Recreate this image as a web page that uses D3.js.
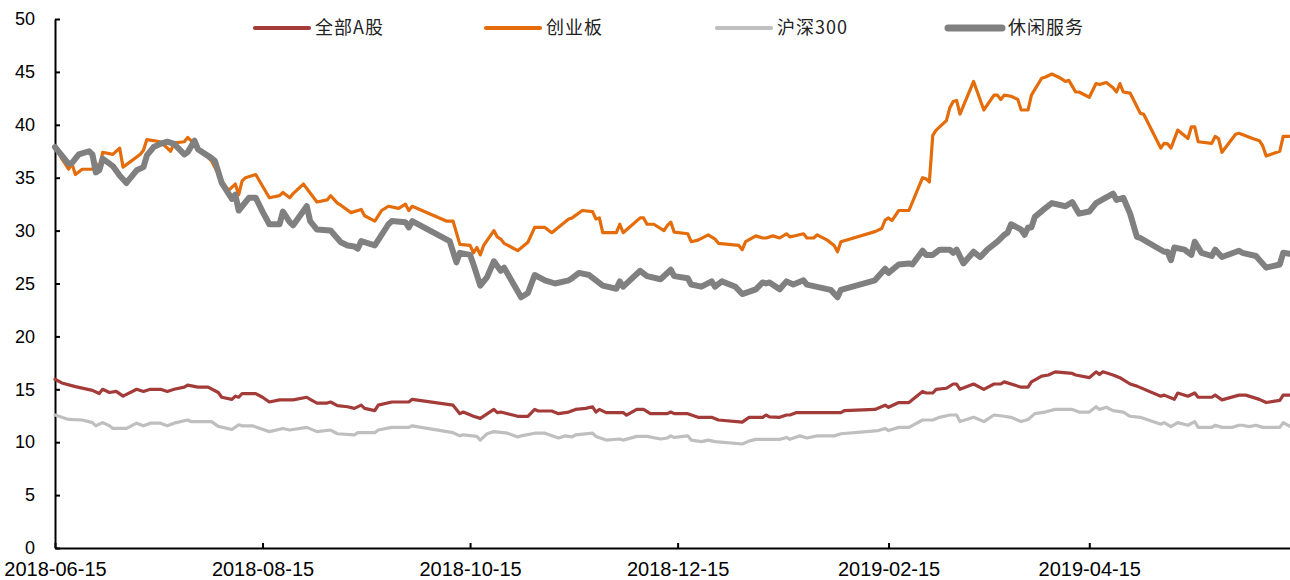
<!DOCTYPE html>
<html>
<head>
<meta charset="utf-8">
<script src="https://cdn.jsdelivr.net/npm/d3@7"></script>
<style>
  body { margin: 0; background: #fff; }
  svg { display: block; }
</style>
</head>
<body>
<svg id="chart"></svg>
<script>
// PE series: [date, value]
const quanbuA = [
  ["2018-06-15",15.95],["2018-06-17",15.6],["2018-06-21",15.25],["2018-06-26",14.9],["2018-06-28",14.6],
  ["2018-06-29",15.0],["2018-07-01",14.7],["2018-07-03",14.8],["2018-07-05",14.35],["2018-07-09",15.0],
  ["2018-07-11",14.8],["2018-07-13",15.0],["2018-07-16",15.0],["2018-07-18",14.8],["2018-07-20",15.0],
  ["2018-07-23",15.2],["2018-07-24",15.4],["2018-07-27",15.2],["2018-07-30",15.2],["2018-08-02",14.7],
  ["2018-08-03",14.25],["2018-08-06",14.05],["2018-08-07",14.35],["2018-08-08",14.25],["2018-08-09",14.6],
  ["2018-08-13",14.6],["2018-08-15",14.25],["2018-08-17",13.8],["2018-08-20",14.0],["2018-08-24",14.0],
  ["2018-08-28",14.25],["2018-08-29",14.05],["2018-08-31",13.7],["2018-09-03",13.7],["2018-09-04",13.8],
  ["2018-09-06",13.45],["2018-09-09",13.35],["2018-09-11",13.2],["2018-09-13",13.5],["2018-09-14",13.2],
  ["2018-09-17",12.98],["2018-09-18",13.5],["2018-09-22",13.8],["2018-09-27",13.8],["2018-09-28",14.05],
  ["2018-10-10",13.5],["2018-10-12",12.7],["2018-10-13",12.85],["2018-10-16",12.45],["2018-10-18",12.25],
  ["2018-10-22",13.1],["2018-10-23",12.8],["2018-10-24",12.85],["2018-10-29",12.45],["2018-11-01",12.45],
  ["2018-11-03",13.1],["2018-11-04",12.95],["2018-11-08",12.95],["2018-11-10",12.7],["2018-11-13",12.85],
  ["2018-11-15",13.1],["2018-11-18",13.2],["2018-11-20",13.35],["2018-11-21",12.85],["2018-11-22",13.1],
  ["2018-11-24",12.8],["2018-11-29",12.8],["2018-11-30",12.55],["2018-12-03",13.1],["2018-12-05",13.1],
  ["2018-12-07",12.7],["2018-12-12",12.7],["2018-12-13",12.85],["2018-12-14",12.7],["2018-12-18",12.7],
  ["2018-12-21",12.35],["2018-12-25",12.35],["2018-12-27",12.1],["2019-01-03",11.9],["2019-01-05",12.35],
  ["2019-01-09",12.35],["2019-01-10",12.57],["2019-01-11",12.4],["2019-01-14",12.35],["2019-01-16",12.57],
  ["2019-01-17",12.57],["2019-01-19",12.8],["2019-02-01",12.8],["2019-02-02",12.98],["2019-02-11",13.1],
  ["2019-02-14",13.5],["2019-02-15",13.3],["2019-02-18",13.75],["2019-02-21",13.75],["2019-02-25",14.8],
  ["2019-02-26",14.65],["2019-02-28",14.65],["2019-03-01",15.0],["2019-03-04",15.1],["2019-03-06",15.5],
  ["2019-03-07",15.5],["2019-03-08",15.0],["2019-03-12",15.5],["2019-03-15",15.0],["2019-03-18",15.5],
  ["2019-03-20",15.5],["2019-03-21",15.7],["2019-03-26",15.2],["2019-03-28",15.2],["2019-03-29",15.7],
  ["2019-04-01",16.25],["2019-04-03",16.35],["2019-04-05",16.65],["2019-04-10",16.5],["2019-04-11",16.35],
  ["2019-04-15",16.1],["2019-04-17",16.65],["2019-04-18",16.4],["2019-04-19",16.65],["2019-04-22",16.35],
  ["2019-04-24",16.1],["2019-04-27",15.5],["2019-04-29",15.3],["2019-05-06",14.35],["2019-05-07",14.45],
  ["2019-05-10",14.05],["2019-05-11",14.65],["2019-05-14",14.35],["2019-05-16",14.65],["2019-05-17",14.25],
  ["2019-05-21",14.25],["2019-05-22",14.45],["2019-05-24",14.0],["2019-05-29",14.45],["2019-05-31",14.45],
  ["2019-06-04",14.05],["2019-06-06",13.75],["2019-06-10",13.95],["2019-06-11",14.45],["2019-06-13",14.45]
]

const chuangyeban = [
  ["2018-06-15",38.0],["2018-06-17",36.8],["2018-06-19",35.8],["2018-06-20",36.3],["2018-06-21",35.3],
  ["2018-06-23",35.8],["2018-06-26",35.8],["2018-06-27",36.4],["2018-06-28",35.7],["2018-06-29",37.4],
  ["2018-07-02",37.2],["2018-07-04",37.8],["2018-07-05",36.0],["2018-07-10",37.2],["2018-07-11",37.6],
  ["2018-07-12",38.6],["2018-07-16",38.4],["2018-07-19",37.5],["2018-07-20",38.3],["2018-07-23",38.4],
  ["2018-07-24",38.8],["2018-07-26",38.2],["2018-07-31",36.6],["2018-08-03",34.7],["2018-08-05",33.8],
  ["2018-08-07",34.4],["2018-08-08",33.4],["2018-08-09",34.7],["2018-08-10",35.0],["2018-08-13",35.3],
  ["2018-08-17",33.1],["2018-08-20",33.3],["2018-08-21",33.6],["2018-08-23",33.1],["2018-08-24",33.5],
  ["2018-08-27",34.4],["2018-08-31",32.7],["2018-09-03",32.9],["2018-09-04",33.3],["2018-09-06",32.6],
  ["2018-09-07",32.4],["2018-09-10",31.7],["2018-09-13",32.0],["2018-09-14",31.4],["2018-09-17",30.9],
  ["2018-09-18",31.4],["2018-09-19",31.9],["2018-09-21",32.3],["2018-09-24",32.1],["2018-09-26",32.5],
  ["2018-09-27",31.9],["2018-09-28",32.3],["2018-10-08",30.9],["2018-10-10",30.9],["2018-10-12",28.7],
  ["2018-10-15",28.6],["2018-10-16",27.9],["2018-10-17",28.4],["2018-10-18",27.7],["2018-10-19",28.6],
  ["2018-10-22",30.0],["2018-10-23",29.4],["2018-10-24",29.2],["2018-10-25",28.8],["2018-10-29",28.1],
  ["2018-11-01",28.9],["2018-11-03",30.3],["2018-11-06",30.3],["2018-11-08",29.8],["2018-11-13",31.1],
  ["2018-11-14",31.2],["2018-11-17",31.9],["2018-11-20",31.8],["2018-11-21",31.1],["2018-11-22",31.2],
  ["2018-11-23",29.8],["2018-11-27",29.8],["2018-11-28",30.6],["2018-11-29",29.8],["2018-12-04",31.2],
  ["2018-12-05",31.2],["2018-12-06",30.6],["2018-12-08",30.6],["2018-12-11",30.0],["2018-12-12",30.5],
  ["2018-12-13",30.8],["2018-12-14",29.85],["2018-12-18",29.7],["2018-12-19",28.95],["2018-12-21",29.1],
  ["2018-12-24",29.6],["2018-12-26",29.2],["2018-12-27",28.8],["2019-01-02",28.6],["2019-01-03",28.2],
  ["2019-01-04",28.95],["2019-01-07",29.5],["2019-01-09",29.3],["2019-01-10",29.3],["2019-01-12",29.5],
  ["2019-01-14",29.3],["2019-01-16",29.7],["2019-01-17",29.4],["2019-01-21",29.7],["2019-01-22",29.3],
  ["2019-01-24",29.3],["2019-01-25",29.6],["2019-01-28",29.1],["2019-01-30",28.6],["2019-01-31",28.0],
  ["2019-02-01",28.95],["2019-02-11",29.9],["2019-02-13",30.2],["2019-02-14",31.0],["2019-02-15",31.2],
  ["2019-02-16",30.95],["2019-02-18",31.9],["2019-02-21",31.9],["2019-02-25",35.0],["2019-02-26",34.9],
  ["2019-02-27",34.6],["2019-02-28",39.0],["2019-03-01",39.5],["2019-03-04",40.4],["2019-03-05",41.6],
  ["2019-03-06",42.2],["2019-03-07",42.3],["2019-03-08",41.0],["2019-03-12",44.1],["2019-03-15",41.4],
  ["2019-03-18",42.8],["2019-03-19",42.8],["2019-03-20",42.4],["2019-03-21",42.8],["2019-03-23",42.7],
  ["2019-03-25",42.4],["2019-03-26",41.4],["2019-03-28",41.4],["2019-03-29",42.8],["2019-04-01",44.4],
  ["2019-04-02",44.5],["2019-04-04",44.8],["2019-04-06",44.5],["2019-04-08",44.1],["2019-04-09",44.2],
  ["2019-04-11",43.1],["2019-04-12",43.1],["2019-04-15",42.6],["2019-04-17",43.9],["2019-04-18",43.8],
  ["2019-04-20",44.0],["2019-04-22",43.5],["2019-04-23",43.1],["2019-04-24",43.9],["2019-04-25",43.1],
  ["2019-04-27",43.0],["2019-04-30",41.1],["2019-05-01",41.0],["2019-05-06",37.8],["2019-05-07",38.25],
  ["2019-05-08",38.2],["2019-05-09",37.8],["2019-05-11",39.5],["2019-05-14",38.7],["2019-05-15",39.8],
  ["2019-05-16",39.8],["2019-05-17",38.4],["2019-05-21",38.25],["2019-05-22",38.9],["2019-05-23",38.7],
  ["2019-05-24",37.4],["2019-05-28",39.1],["2019-05-29",39.2],["2019-06-02",38.7],["2019-06-04",38.5],
  ["2019-06-05",38.0],["2019-06-06",37.05],["2019-06-10",37.5],["2019-06-11",38.9],["2019-06-13",38.9]
]

const hs300 = [
  ["2018-06-15",12.57],["2018-06-19",12.15],["2018-06-23",12.1],["2018-06-26",11.85],["2018-06-27",11.55],
  ["2018-06-29",11.85],["2018-07-01",11.55],["2018-07-02",11.3],["2018-07-06",11.3],["2018-07-09",11.8],
  ["2018-07-11",11.55],["2018-07-13",11.8],["2018-07-16",11.8],["2018-07-18",11.55],["2018-07-20",11.8],
  ["2018-07-24",12.1],["2018-07-25",11.95],["2018-07-31",11.95],["2018-08-02",11.5],["2018-08-06",11.2],
  ["2018-08-08",11.65],["2018-08-09",11.55],["2018-08-12",11.55],["2018-08-17",11.0],["2018-08-21",11.3],
  ["2018-08-23",11.15],["2018-08-28",11.4],["2018-08-31",11.0],["2018-09-04",11.15],["2018-09-06",10.8],
  ["2018-09-11",10.7],["2018-09-12",10.9],["2018-09-17",10.9],["2018-09-18",11.15],["2018-09-22",11.4],
  ["2018-09-27",11.4],["2018-09-28",11.55],["2018-10-10",10.9],["2018-10-12",10.6],["2018-10-13",10.7],
  ["2018-10-17",10.55],["2018-10-18",10.2],["2018-10-20",10.8],["2018-10-22",11.0],["2018-10-26",10.85],
  ["2018-10-29",10.5],["2018-10-30",10.6],["2018-11-03",10.85],["2018-11-06",10.85],["2018-11-10",10.4],
  ["2018-11-12",10.6],["2018-11-14",10.5],["2018-11-15",10.7],["2018-11-20",10.85],["2018-11-21",10.55],
  ["2018-11-24",10.2],["2018-11-28",10.3],["2018-11-29",10.2],["2018-12-03",10.55],["2018-12-06",10.55],
  ["2018-12-10",10.3],["2018-12-12",10.4],["2018-12-13",10.6],["2018-12-14",10.45],["2018-12-18",10.6],
  ["2018-12-19",10.2],["2018-12-22",10.05],["2018-12-24",10.2],["2018-12-26",10.05],["2019-01-03",9.83],
  ["2019-01-05",10.1],["2019-01-07",10.27],["2019-01-14",10.27],["2019-01-16",10.45],["2019-01-17",10.27],
  ["2019-01-20",10.6],["2019-01-22",10.4],["2019-01-25",10.6],["2019-01-30",10.6],["2019-02-01",10.8],
  ["2019-02-12",11.1],["2019-02-14",11.3],["2019-02-15",11.1],["2019-02-18",11.4],["2019-02-21",11.4],
  ["2019-02-25",12.1],["2019-02-28",12.1],["2019-03-02",12.35],["2019-03-05",12.57],["2019-03-07",12.57],
  ["2019-03-08",11.95],["2019-03-12",12.35],["2019-03-15",11.95],["2019-03-18",12.57],["2019-03-21",12.45],
  ["2019-03-23",12.35],["2019-03-26",11.95],["2019-03-28",12.15],["2019-03-30",12.7],["2019-04-02",12.85],
  ["2019-04-05",13.1],["2019-04-10",13.1],["2019-04-12",12.85],["2019-04-15",12.85],["2019-04-17",13.35],
  ["2019-04-18",13.1],["2019-04-20",13.3],["2019-04-22",12.98],["2019-04-25",12.85],["2019-04-27",12.45],
  ["2019-04-30",12.35],["2019-05-06",11.7],["2019-05-07",11.85],["2019-05-09",11.47],["2019-05-11",11.85],
  ["2019-05-14",11.6],["2019-05-16",11.95],["2019-05-17",11.4],["2019-05-21",11.4],["2019-05-22",11.6],
  ["2019-05-24",11.4],["2019-05-27",11.4],["2019-05-29",11.6],["2019-05-30",11.6],["2019-06-01",11.47],
  ["2019-06-03",11.6],["2019-06-05",11.4],["2019-06-10",11.4],["2019-06-11",11.85],["2019-06-13",11.5]
]

const xiuxianFuwu = [
  ["2018-06-15",37.9],["2018-06-19",36.3],["2018-06-20",36.4],["2018-06-22",37.2],["2018-06-25",37.5],
  ["2018-06-26",37.2],["2018-06-27",35.5],["2018-06-28",35.7],["2018-06-29",36.8],["2018-07-02",36.1],
  ["2018-07-04",35.2],["2018-07-06",34.5],["2018-07-09",35.7],["2018-07-11",36.0],["2018-07-12",37.1],
  ["2018-07-14",37.9],["2018-07-16",38.2],["2018-07-18",38.4],["2018-07-20",38.2],["2018-07-23",37.2],
  ["2018-07-24",37.4],["2018-07-26",38.5],["2018-07-27",37.7],["2018-07-31",36.85],["2018-08-01",36.6],
  ["2018-08-03",34.5],["2018-08-06",33.0],["2018-08-07",33.4],["2018-08-08",31.9],["2018-08-11",33.1],
  ["2018-08-13",33.1],["2018-08-15",31.8],["2018-08-17",30.6],["2018-08-20",30.6],["2018-08-21",31.8],
  ["2018-08-23",30.8],["2018-08-24",30.5],["2018-08-28",32.3],["2018-08-29",30.9],["2018-08-31",30.1],
  ["2018-09-04",30.0],["2018-09-07",28.9],["2018-09-09",28.6],["2018-09-11",28.5],["2018-09-12",28.3],
  ["2018-09-13",29.0],["2018-09-17",28.6],["2018-09-21",30.6],["2018-09-22",30.9],["2018-09-26",30.8],
  ["2018-09-27",30.3],["2018-09-28",30.9],["2018-10-09",29.0],["2018-10-11",27.0],["2018-10-12",27.9],
  ["2018-10-15",27.7],["2018-10-16",26.8],["2018-10-18",24.8],["2018-10-20",25.6],["2018-10-22",27.1],
  ["2018-10-24",26.2],["2018-10-25",26.5],["2018-10-30",23.7],["2018-11-01",24.1],["2018-11-03",25.8],
  ["2018-11-06",25.3],["2018-11-09",25.0],["2018-11-13",25.3],["2018-11-14",25.5],["2018-11-16",26.0],
  ["2018-11-19",25.8],["2018-11-21",25.3],["2018-11-23",24.8],["2018-11-27",24.5],["2018-11-28",25.2],
  ["2018-11-29",24.7],["2018-12-04",26.2],["2018-12-06",25.7],["2018-12-10",25.4],["2018-12-13",26.3],
  ["2018-12-14",25.7],["2018-12-18",25.5],["2018-12-19",24.9],["2018-12-22",24.7],["2018-12-25",25.2],
  ["2018-12-26",24.7],["2018-12-28",25.2],["2019-01-01",24.7],["2019-01-03",24.0],["2019-01-07",24.45],
  ["2019-01-09",25.1],["2019-01-10",25.0],["2019-01-11",25.1],["2019-01-14",24.45],["2019-01-16",25.2],
  ["2019-01-18",24.9],["2019-01-21",25.3],["2019-01-22",24.9],["2019-01-29",24.4],["2019-01-31",23.7],
  ["2019-02-01",24.4],["2019-02-11",25.3],["2019-02-14",26.4],["2019-02-15",26.0],["2019-02-18",26.8],
  ["2019-02-21",26.9],["2019-02-22",26.8],["2019-02-25",28.1],["2019-02-26",27.7],["2019-02-28",27.7],
  ["2019-03-02",28.2],["2019-03-05",28.2],["2019-03-06",27.9],["2019-03-07",28.2],["2019-03-09",26.9],
  ["2019-03-12",28.0],["2019-03-14",27.5],["2019-03-16",28.2],["2019-03-19",28.95],["2019-03-21",29.6],
  ["2019-03-22",29.8],["2019-03-23",30.6],["2019-03-26",30.1],["2019-03-27",29.6],["2019-03-28",30.3],
  ["2019-03-29",30.3],["2019-03-30",31.3],["2019-04-02",32.1],["2019-04-04",32.6],["2019-04-08",32.3],
  ["2019-04-10",32.7],["2019-04-12",31.6],["2019-04-15",31.8],["2019-04-17",32.6],["2019-04-20",33.15],
  ["2019-04-22",33.5],["2019-04-23",32.9],["2019-04-25",33.1],["2019-04-27",31.6],["2019-04-29",29.4],
  ["2019-04-30",29.3],["2019-05-07",28.0],["2019-05-08",28.0],["2019-05-09",27.2],["2019-05-10",28.4],
  ["2019-05-13",28.2],["2019-05-15",27.7],["2019-05-16",28.95],["2019-05-18",27.9],["2019-05-21",27.6],
  ["2019-05-22",28.2],["2019-05-24",27.5],["2019-05-29",28.1],["2019-05-30",27.9],["2019-06-03",27.6],
  ["2019-06-06",26.5],["2019-06-10",26.8],["2019-06-11",27.9],["2019-06-13",27.8]
]

const seriesNames = ["全部A股", "创业板", "沪深300", "休闲服务"]
const xTickLabels = ["2018-06-15", "2018-08-15", "2018-10-15", "2018-12-15", "2019-02-15", "2019-04-15"]
const yTickValues = [0, 5, 10, 15, 20, 25, 30, 35, 40, 45, 50]
const xDomain = ["2018-06-15", "2019-06-13"]

// styling per series, same order as seriesNames
const colors = ["#a33b39", "#e46c0a", "#bfbfbf", "#808080"]
const strokeWidths = [3.2, 3.2, 3.2, 6]

var width = 1290
var height = 580
var margin = { top: 19, right: 0, bottom: 32, left: 55 }

var parseDate = d3.timeParse('%Y-%m-%d')

var svg = d3.select('#chart')
  .attr('width', width)
  .attr('height', height)

var x = d3.scaleTime()
  .domain(xDomain.map(parseDate))
  .range([margin.left, width - margin.right])

var y = d3.scaleLinear()
  .domain([0, 50])
  .range([height - margin.bottom, margin.top])

// axes: short ticks pointing into the plot
var xAxis = d3.axisBottom(x)
  .tickValues(xTickLabels.map(parseDate))
  .tickFormat(d3.timeFormat('%Y-%m-%d'))
  .tickSize(-5)
  .tickSizeOuter(0)
  .tickPadding(14)

var yAxis = d3.axisLeft(y)
  .tickValues(yTickValues)
  .tickSize(-5)
  .tickSizeOuter(0)
  .tickPadding(20)

var gx = svg.append('g')
  .attr('transform', 'translate(0,' + (height - margin.bottom) + ')')
  .call(xAxis)

var gy = svg.append('g')
  .attr('transform', 'translate(' + margin.left + ',0)')
  .call(yAxis)

svg.selectAll('.domain, .tick line')
  .attr('stroke', '#000')
  .attr('stroke-width', 2)

gx.selectAll('text')
  .attr('font-family', '"Liberation Sans", Arial, sans-serif')
  .attr('font-size', 20)
  .attr('fill', '#000')

gy.selectAll('text')
  .attr('font-family', '"Liberation Sans", Arial, sans-serif')
  .attr('font-size', 18)
  .attr('fill', '#000')

// lines
var line = d3.line()
  .x(d => x(parseDate(d[0])))
  .y(d => y(d[1]))

var allSeries = [quanbuA, chuangyeban, hs300, xiuxianFuwu]

svg.append('g')
  .attr('class', 'lines')
  .selectAll('path')
  .data(allSeries)
  .enter()
  .append('path')
  .attr('d', d => line(d))
  .attr('fill', 'none')
  .attr('stroke', (d, i) => colors[i])
  .attr('stroke-width', (d, i) => strokeWidths[i])
  .attr('stroke-linejoin', 'round')
  .attr('stroke-linecap', 'round')

// legend across the top
var legendX = d3.scalePoint()
  .domain(seriesNames)
  .range([255, 948])

var legend = svg.append('g')
  .attr('class', 'legend')
  .selectAll('g')
  .data(seriesNames)
  .enter()
  .append('g')
  .attr('transform', d => 'translate(' + legendX(d) + ',28)')

legend.append('line')
  .attr('x1', 0)
  .attr('x2', 54)
  .attr('stroke', (d, i) => colors[i])
  .attr('stroke-width', (d, i) => strokeWidths[i] + 1)
  .attr('stroke-linecap', 'round')

legend.append('text')
  .attr('x', 60)
  .attr('dy', '0.35em')
  .attr('font-family', '"Noto Sans CJK SC", sans-serif')
  .attr('font-size', 18)
  .attr('letter-spacing', 1)
  .attr('fill', '#222')
  .text(d => d)
</script>
</body>
</html>
